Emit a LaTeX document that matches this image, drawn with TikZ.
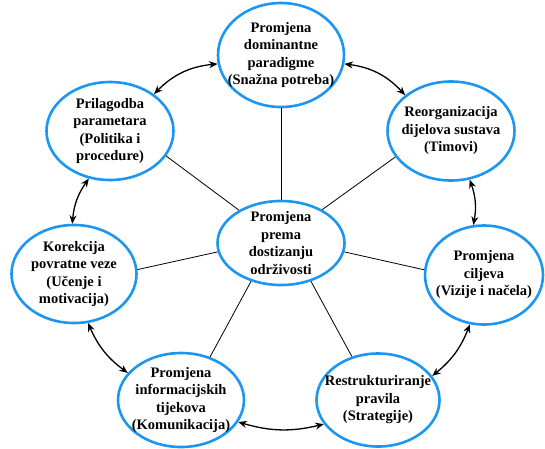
\documentclass[tikz,border=0pt]{standalone}
\usepackage{fontspec}
\setmainfont{Liberation Serif}
\usetikzlibrary{arrows.meta,shapes.geometric}
\definecolor{ringblue}{RGB}{28,150,240}
\begin{document}
\begin{tikzpicture}[x=1pt,y=-1pt,
  bub/.style={ellipse, draw=ringblue, line width=2.6pt, inner sep=0pt},
  txt/.style={align=center, inner sep=0pt, font=\bfseries\fontsize{14.5}{17.5}\selectfont},
  spoke/.style={line width=0.8pt},
  link/.style={line width=1.3pt, {Stealth[length=8.5pt,width=7pt]}-{Stealth[length=8.5pt,width=7pt]}}]
\useasboundingbox (0,0) rectangle (545,448);

\node[bub, minimum width=126pt, minimum height=104pt] (top) at (281,55) {};
\node[bub, minimum width=127pt, minimum height=98pt] (tl) at (110,131) {};
\node[bub, minimum width=127pt, minimum height=99pt] (tr) at (451,131) {};
\node[bub, minimum width=125pt, minimum height=98pt] (l) at (74,274) {};
\node[bub, minimum width=118pt, minimum height=99pt] (r) at (484,275) {};
\node[bub, minimum width=127pt, minimum height=84pt] (c) at (281,243) {};
\node[bub, minimum width=126pt, minimum height=94pt] (bl) at (181,400) {};
\node[bub, minimum width=123pt, minimum height=93pt] (br) at (378,400) {};

\node[txt] (topt) at (top) {Promjena\\dominantne\\paradigme\\(Snažna potreba)};
\node[txt] (tlt) at (tl) {Prilagodba\\parametara\\(Politika i\\procedure)};
\node[txt] (trt) at (tr) {Reorganizacija\\dijelova sustava\\(Timovi)};
\node[txt] (lt) at (l) {Korekcija\\povratne veze\\(Učenje i\\motivacija)};
\node[txt] (rt) at (r) {Promjena\\ciljeva\\(Vizije i načela)};
\node[txt] (ct) at (c) {Promjena\\prema\\dostizanju\\održivosti};
\node[txt] (blt) at (bl) {Promjena\\informacijskih\\tijekova\\(Komunikacija)};
\node[txt] (brt) at (br) {Restrukturiranje\\pravila\\(Strategije)};

\draw[spoke] (top.-90) -- (c.90);
\draw[spoke] (tl.-24) -- (c.142);
\draw[spoke] (tr.205) -- (c.39);
\draw[spoke] (l.4) -- (c.188.5);
\draw[spoke] (r.175) -- (c.-8);
\draw[spoke] (bl.56) -- (c.232);
\draw[spoke] (br.121) -- (c.-52);

\draw[link] (tl.40) to[bend left=20] (top.188);
\draw[link] (top.-8) to[bend left=20] (tr.142);
\draw[link] (tr.-69) to[bend left=15] (r.102);
\draw[link] (r.254) to[bend left=15] (br.24);
\draw[link] (br.204) to[bend left=15] (bl.-21);
\draw[link] (bl.153) to[bend left=15] (l.-74);
\draw[link] (l.92) to[bend left=15] (tl.246);
\end{tikzpicture}
\end{document}
